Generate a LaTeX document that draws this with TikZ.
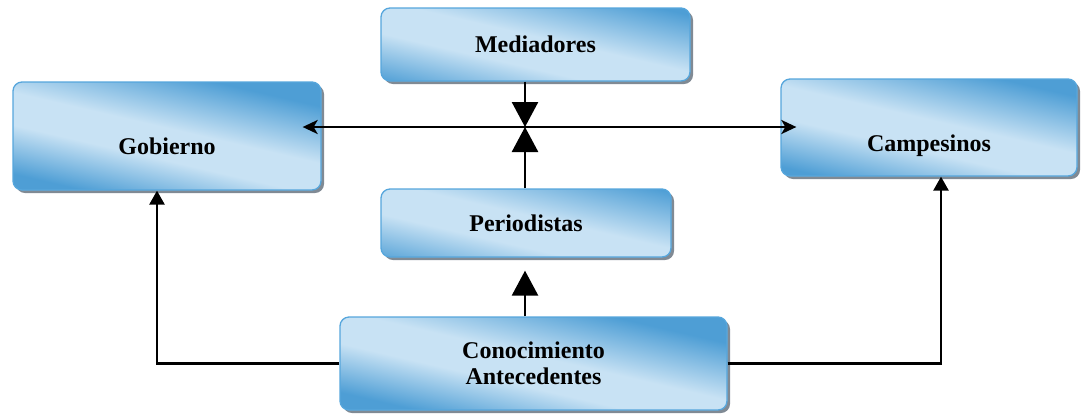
\documentclass[tikz,border=0pt]{standalone}
\usepackage{fontspec}
\setmainfont{Liberation Serif}
\usetikzlibrary{arrows.meta, shadows}

\definecolor{bluedark}{RGB}{78,158,213}
\definecolor{bluelight}{RGB}{200,226,244}
\definecolor{blueedge}{RGB}{86,166,220}
\definecolor{shadowgray}{RGB}{128,138,148}
\pgfdeclarehorizontalshading{boxblue}{100bp}{color(0bp)=(bluedark); color(41bp)=(bluedark); color(47bp)=(bluelight); color(51bp)=(bluelight); color(58bp)=(bluedark); color(100bp)=(bluedark)}

\tikzset{
  box/.style={rectangle, rounded corners=9pt, draw=blueedge, line width=1.3pt,
    fill=bluelight, align=center,
    path picture={\shade[shading=boxblue, shading angle=77]
      ([shift={(-200pt,-200pt)}]path picture bounding box.center) rectangle
      ([shift={(200pt,200pt)}]path picture bounding box.center);},
    font=\bfseries\fontsize{24}{26}\selectfont,
    drop shadow={shadow xshift=3pt, shadow yshift=-3pt, fill=shadowgray, opacity=1}},
  conn/.style={line width=2.6pt, black},
  bigtip/.style={-{Triangle[length=25pt,width=26pt]}},
  smalltip/.style={-{Triangle[length=14pt,width=15pt]}},
  sidetip/.style={-{Stealth[length=15pt,width=14pt,inset=4pt]}}
}

\begin{document}
\begin{tikzpicture}[x=1pt,y=-1pt]
\useasboundingbox (0,0) rectangle (1081,416);

\node[box, minimum width=309pt, minimum height=73pt] (med) at (535.5,44.5) {Mediadores};
\node[box, minimum width=308pt, minimum height=108pt, text height=37pt, text depth=0pt] (gob) at (167,136) {Gobierno};
\node[box, minimum width=296pt, minimum height=97pt, text height=47pt, text depth=0pt] (cam) at (929,127.5) {Campesinos};
\node[box, minimum width=290pt, minimum height=68pt] (per) at (526,223) {Periodistas};
\node[box, minimum width=387pt, minimum height=93pt] (con) at (533.5,363.5) {Conocimiento\\Antecedentes};

\coordinate (hub) at (525,127);
\coordinate (lc) at (157,363.5);
\coordinate (rc) at (941,363.5);

% central cross
\draw[conn, sidetip, shorten >=-19pt] (hub) -- (hub -| gob.east);
\draw[conn, sidetip, shorten >=-16pt] (hub) -- (hub -| cam.west);
\draw[conn, bigtip] (med.south -| hub) -- (hub);
\draw[conn, bigtip] (per.north -| hub) -- (hub);
\draw[conn, bigtip, shorten >=13pt] (con.north -| hub) -- (per.south -| hub);

% side branches
\draw[conn, smalltip] (con.west) -- (lc) -- (lc |- gob.south);
\draw[conn, smalltip] (con.east) -- (rc) -- (rc |- cam.south);
\end{tikzpicture}
\end{document}
